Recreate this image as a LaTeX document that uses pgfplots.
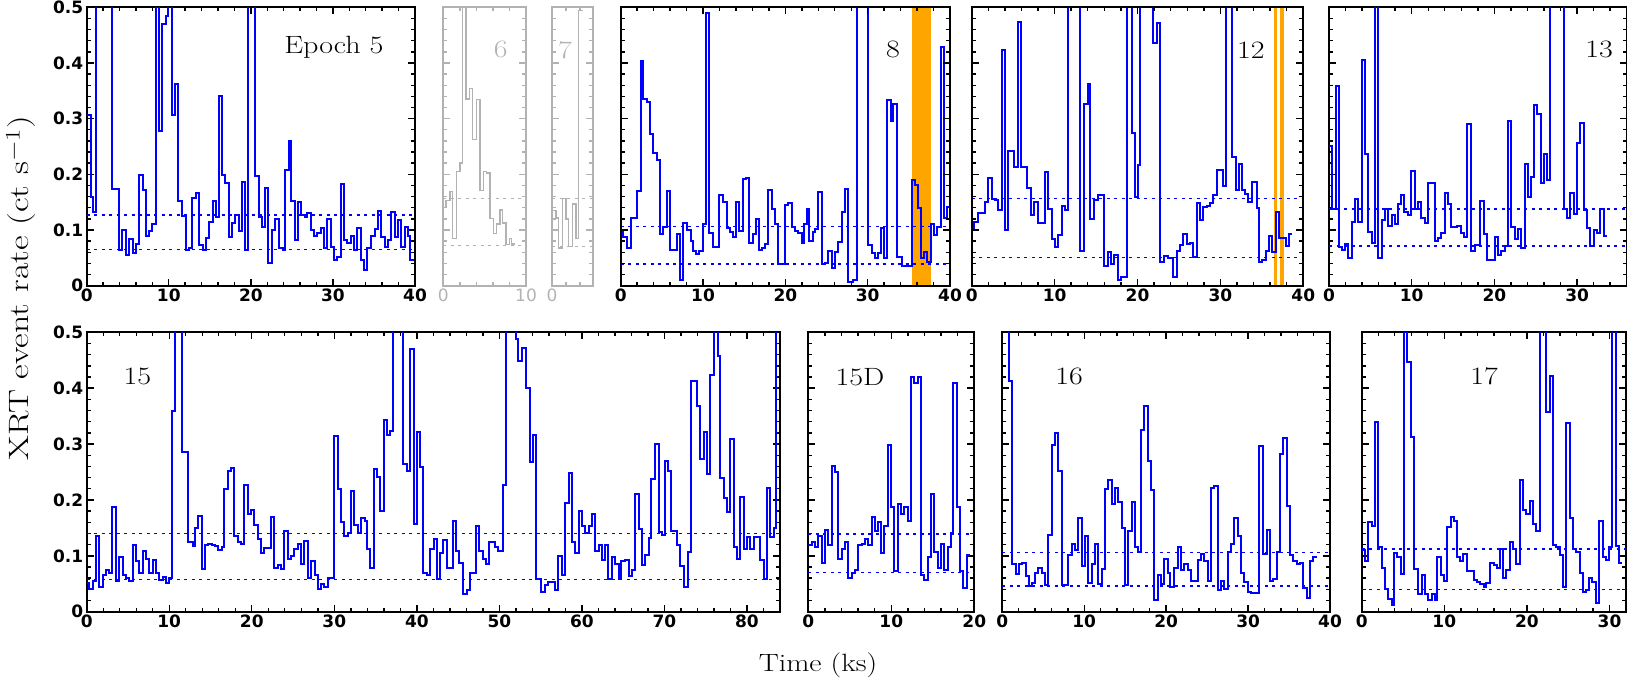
\documentclass[border=0pt]{standalone}
\usepackage{fontspec}
\usepackage{pgfplots}
\pgfplotsset{compat=1.18}
\usepackage{pgfplotstable}
\usepackage{graphicx}
\newfontfamily\tickfont{DejaVu Sans}
\definecolor{band}{RGB}{255,165,0}
\definecolor{ltgray}{RGB}{178,178,178}
\newcommand\lab[1]{\fontsize{25}{25}\selectfont\scalebox{1.2}[1]{#1}}

% light curves: bin start (ks), rate (ct/s); 0.6 = off the top
\pgfplotstableread{
t r
0 0.307
0.49 0.16
0.81 0.132
1.14 0.6
3.13 0.173
3.98 0.065
4.35 0.1
4.76 0.055
5.16 0.084
5.65 0.058
6.06 0.075
6.38 0.198
6.83 0.171
7.24 0.089
7.64 0.099
8.01 0.111
8.41 0.6
8.82 0.278
9.23 0.47
9.63 0.485
9.96 0.6
10.37 0.307
10.77 0.362
11.18 0.153
11.67 0.126
12.07 0.064
12.48 0.068
12.89 0.157
13.29 0.166
13.7 0.073
14.11 0.065
14.51 0.086
14.92 0.115
15.33 0.152
15.73 0.123
16.06 0.341
16.46 0.198
16.87 0.184
17.28 0.088
17.68 0.113
18.09 0.127
18.5 0.098
18.9 0.187
19.31 0.065
19.63 0.6
20.53 0.197
21.02 0.124
21.34 0.106
21.75 0.176
22.15 0.04
22.56 0.1
22.89 0.12
23.37 0.067
23.86 0.065
24.19 0.208
24.59 0.26
24.92 0.153
25.33 0.082
25.73 0.151
26.14 0.127
26.54 0.123
26.87 0.131
27.28 0.1
27.68 0.09
28.09 0.094
28.5 0.103
28.9 0.067
29.31 0.119
29.72 0.07
30.12 0.047
30.53 0.051
30.93 0.182
31.34 0.082
31.75 0.076
32.15 0.09
32.56 0.065
32.97 0.104
33.37 0.046
33.78 0.029
34.19 0.067
34.67 0.09
35.08 0.102
35.49 0.135
35.89 0.087
36.3 0.069
36.71 0.082
37.11 0.132
37.52 0.088
37.93 0.118
38.33 0.07
38.74 0.106
39.15 0.09
39.43 0.046
39.84 0.046
}\epfive

\pgfplotstableread{
t r
0 0.14
0.32 0.153
0.81 0.169
1.13 0.085
1.61 0.205
2.02 0.22
2.34 0.6
2.74 0.335
3.15 0.354
3.55 0.263
4.03 0.334
4.44 0.171
4.84 0.205
5.24 0.202
5.65 0.121
6.05 0.094
6.45 0.111
6.85 0.136
7.18 0.113
7.58 0.074
7.98 0.085
8.27 0.075
8.67 0.075
}\epsix

\pgfplotstableread{
t r
0 0.135
0.48 0.122
0.81 0.068
1.29 0.157
1.69 0.12
2.02 0.07
2.5 0.147
2.9 0.085
3.19 0.494
3.71 0.494
}\epseven

\pgfplotstableread{
t r
0 0.1
0.32 0.088
0.73 0.068
1.21 0.122
1.94 0.17
2.43 0.403
2.75 0.335
3.16 0.33
3.56 0.272
3.97 0.238
4.37 0.226
4.78 0.093
5.18 0.105
5.59 0.17
5.99 0.065
6.8 0.093
7.21 0.011
7.61 0.113
8.1 0.1
8.5 0.08
8.83 0.062
9.15 0.057
9.55 0.063
9.96 0.11
10.36 0.49
10.77 0.095
11.17 0.07
11.98 0.163
12.47 0.15
12.87 0.104
13.28 0.097
13.68 0.087
14.01 0.151
14.41 0.098
14.9 0.191
15.22 0.193
15.63 0.077
16.03 0.093
16.44 0.12
16.84 0.065
17.13 0.068
17.53 0.075
17.94 0.172
18.34 0.137
18.74 0.111
19.15 0.039
19.96 0.145
20.36 0.148
20.77 0.105
21.17 0.098
21.58 0.095
21.98 0.077
22.31 0.111
22.59 0.137
22.91 0.08
23.32 0.097
23.64 0.102
24.01 0.169
24.41 0.039
24.82 0.04
25.22 0.063
25.63 0.032
26.03 0.061
26.44 0.079
26.84 0.132
27.25 0.174
27.65 0.007
28.18 0.01
28.66 0.6
30.08 0.073
30.49 0.058
30.89 0.05
31.3 0.058
31.58 0.104
31.98 0.05
32.39 0.334
32.83 0.296
33.12 0.326
33.6 0.052
34.13 0.036
34.53 0.036
35.34 0.189
35.75 0.181
36.15 0.139
36.48 0.05
36.88 0.06
37.25 0.042
37.65 0.11
38.06 0.091
38.46 0.106
38.87 0.428
39.27 0.121
39.6 0.142
40 0.142
}\epeight

\pgfplotstableread{
t r
0 0.1
0.32 0.114
0.72 0.131
1.61 0.151
2.01 0.194
2.41 0.155
2.81 0.154
3.14 0.136
3.62 0.423
4.02 0.1
4.42 0.242
5.15 0.213
5.55 0.473
5.95 0.214
6.63 0.175
7.16 0.127
7.56 0.151
7.96 0.112
8.84 0.205
9.25 0.137
9.65 0.084
10.05 0.07
10.37 0.091
10.85 0.143
11.26 0.136
11.58 0.6
13.07 0.063
13.59 0.326
13.99 0.363
14.31 0.12
14.71 0.154
15.2 0.162
16.0 0.036
16.4 0.06
16.8 0.039
17.21 0.055
17.61 0.01
18.01 0.016
18.69 0.6
19.3 0.274
19.7 0.16
20.1 0.216
20.3 0.6
21.91 0.435
22.31 0.472
22.71 0.043
23.24 0.053
23.72 0.049
24.32 0.016
24.72 0.063
25.13 0.073
25.53 0.093
25.93 0.075
26.33 0.077
26.73 0.052
27.14 0.148
27.54 0.118
27.94 0.141
28.34 0.143
28.74 0.148
29.15 0.162
29.55 0.207
30.35 0.179
30.63 0.6
31.36 0.232
31.84 0.172
32.24 0.219
32.56 0.172
32.96 0.164
33.37 0.151
33.77 0.187
34.37 0.139
34.65 0.042
35.06 0.046
35.46 0.063
35.86 0.089
36.26 0.061
36.66 0.132
37.07 0.086
37.47 0.086
37.87 0.071
38.27 0.092
38.67 0.092
}\eptwelve

\pgfplotstableread{
t r
0 0.251
0.32 0.137
0.81 0.358
1.21 0.07
1.53 0.065
1.94 0.075
2.34 0.05
2.75 0.114
3.15 0.155
3.55 0.115
3.96 0.405
4.36 0.236
4.76 0.096
5.17 0.077
5.57 0.6
5.97 0.05
6.38 0.118
6.78 0.137
7.19 0.107
7.59 0.127
7.99 0.11
8.32 0.146
8.72 0.163
9.12 0.132
9.53 0.127
9.93 0.206
10.34 0.137
10.74 0.151
11.14 0.122
11.55 0.112
11.95 0.185
12.76 0.08
13.16 0.086
13.56 0.095
13.97 0.167
14.37 0.147
14.7 0.105
15.5 0.107
15.91 0.094
16.31 0.088
16.71 0.291
17.2 0.063
17.6 0.073
18.21 0.152
18.69 0.092
19.1 0.046
20.1 0.088
20.43 0.055
20.83 0.063
21.24 0.072
21.64 0.295
22.04 0.106
22.45 0.083
22.85 0.101
23.25 0.067
23.66 0.218
24.06 0.159
24.47 0.196
24.79 0.325
25.19 0.308
25.6 0.185
26.0 0.236
26.36 0.189
26.77 0.6
28.38 0.138
28.78 0.121
29.19 0.167
29.59 0.129
30.0 0.256
30.4 0.292
30.8 0.136
31.21 0.103
31.61 0.072
32.01 0.1
32.42 0.094
32.82 0.137
33.23 0.089
33.63 0.089
}\epthirteen

\pgfplotstableread{
t r
0 0.052
0.32 0.04
0.73 0.055
1.13 0.135
1.54 0.045
1.94 0.065
2.34 0.075
2.75 0.07
3.07 0.187
3.56 0.055
3.96 0.097
4.36 0.065
4.77 0.06
5.17 0.055
5.58 0.12
5.98 0.09
6.38 0.07
6.79 0.108
7.19 0.095
7.6 0.07
8.0 0.093
8.4 0.07
8.81 0.057
9.21 0.062
9.62 0.052
10.02 0.06
10.3 0.36
10.71 0.6
11.52 0.285
12.32 0.125
12.85 0.118
13.13 0.15
13.54 0.172
13.94 0.076
14.34 0.12
14.75 0.122
15.15 0.12
15.56 0.117
15.96 0.11
16.36 0.115
16.69 0.22
17.09 0.252
17.49 0.257
17.9 0.136
18.3 0.125
18.71 0.122
19.11 0.226
19.52 0.175
19.92 0.182
20.32 0.155
20.73 0.13
21.13 0.105
21.54 0.114
22.34 0.17
22.75 0.079
23.15 0.083
23.56 0.077
23.96 0.145
24.36 0.094
24.77 0.1
25.17 0.112
25.58 0.121
25.98 0.085
26.38 0.126
26.79 0.06
27.19 0.09
27.6 0.065
28.0 0.04
28.4 0.05
28.81 0.045
29.21 0.06
30.02 0.314
30.42 0.22
30.83 0.16
31.23 0.135
31.64 0.14
32.04 0.216
32.44 0.155
32.85 0.14
33.25 0.168
33.66 0.163
33.94 0.113
34.34 0.078
34.75 0.256
35.15 0.241
35.56 0.18
35.96 0.343
36.36 0.317
36.77 0.323
37.17 0.6
38.38 0.265
38.79 0.252
39.19 0.47
39.6 0.157
40.0 0.322
40.4 0.259
40.73 0.07
41.21 0.065
41.54 0.113
42.02 0.13
42.42 0.058
42.82 0.105
43.22 0.128
43.63 0.078
44.03 0.078
44.36 0.163
44.76 0.109
45.16 0.088
45.57 0.031
46.05 0.039
46.46 0.069
47.18 0.154
47.59 0.109
47.99 0.095
48.4 0.085
48.8 0.124
49.49 0.116
49.89 0.109
50.42 0.227
50.82 0.6
52.03 0.488
52.31 0.448
52.72 0.472
53.24 0.4
53.65 0.268
54.05 0.316
54.46 0.058
55.06 0.035
55.47 0.047
55.95 0.053
56.76 0.038
57.16 0.1
57.57 0.066
57.97 0.195
58.38 0.248
58.78 0.124
59.18 0.105
59.59 0.181
59.99 0.153
60.4 0.141
60.8 0.153
61.2 0.175
61.61 0.109
62.01 0.119
62.42 0.093
62.82 0.119
63.22 0.058
63.63 0.098
64.03 0.085
64.44 0.058
64.76 0.09
65.24 0.093
65.65 0.063
66.05 0.075
66.38 0.21
66.86 0.148
67.26 0.083
67.67 0.102
68.07 0.131
68.4 0.237
68.8 0.3
69.28 0.142
69.69 0.138
70.01 0.27
70.42 0.252
70.82 0.145
71.51 0.119
71.91 0.082
72.32 0.044
72.8 0.106
73.2 0.413
73.93 0.369
74.33 0.273
74.74 0.321
75.14 0.246
75.55 0.424
75.95 0.6
76.44 0.458
76.76 0.239
77.16 0.204
77.57 0.179
77.97 0.309
78.38 0.115
78.78 0.094
79.18 0.206
79.59 0.112
79.99 0.134
80.4 0.112
80.8 0.133
81.2 0.133
81.61 0.093
82.01 0.058
82.42 0.221
82.82 0.133
83.22 0.149
83.55 0.6
84.03 0.6
}\epfifteen

\pgfplotstableread{
t r
0 0.12
0.4 0.124
0.8 0.115
1.2 0.135
1.61 0.088
2.01 0.147
2.41 0.12
2.81 0.26
3.21 0.25
3.61 0.095
4.02 0.112
4.42 0.124
4.82 0.06
5.22 0.07
5.62 0.075
6.02 0.12
6.43 0.122
6.83 0.13
7.23 0.12
7.63 0.17
8.03 0.145
8.43 0.16
8.76 0.105
9.16 0.153
9.56 0.298
9.96 0.188
10.36 0.073
10.76 0.192
11.16 0.175
11.57 0.188
11.97 0.162
12.37 0.42
12.77 0.41
13.17 0.42
13.57 0.066
13.98 0.057
14.38 0.097
14.78 0.21
15.18 0.107
15.58 0.078
15.98 0.122
16.39 0.075
16.79 0.116
17.19 0.14
17.47 0.41
17.87 0.188
18.27 0.072
18.67 0.043
19.08 0.102
19.48 0.102
}\epfifteenD

\pgfplotstableread{
t r
0 0.6
0.81 0.413
1.22 0.085
1.63 0.067
2.03 0.085
2.44 0.088
2.85 0.063
3.25 0.046
3.66 0.051
3.99 0.069
4.39 0.079
4.8 0.069
5.21 0.048
5.61 0.138
6.02 0.298
6.43 0.319
6.83 0.251
7.24 0.047
8.06 0.101
8.46 0.122
8.87 0.11
9.28 0.167
9.68 0.082
10.09 0.136
10.5 0.051
10.9 0.085
11.31 0.121
11.72 0.05
12.12 0.076
12.53 0.22
12.94 0.236
13.34 0.193
13.75 0.222
14.16 0.197
14.56 0.149
14.97 0.047
15.38 0.145
15.79 0.197
16.19 0.115
16.6 0.106
16.92 0.326
17.33 0.368
17.74 0.27
18.14 0.217
18.55 0.021
18.96 0.066
19.37 0.049
19.77 0.094
20.18 0.07
20.46 0.044
20.99 0.079
21.4 0.115
21.81 0.075
22.21 0.085
22.62 0.075
23.03 0.055
23.84 0.092
24.25 0.103
24.65 0.09
25.06 0.055
25.47 0.222
25.87 0.225
26.28 0.038
26.69 0.055
27.09 0.041
27.5 0.106
27.91 0.122
28.32 0.168
28.72 0.136
29.13 0.07
29.54 0.053
29.94 0.036
30.35 0.033
31.33 0.297
31.85 0.104
32.26 0.147
32.67 0.055
33.08 0.058
33.48 0.106
33.89 0.283
34.3 0.31
34.7 0.189
35.11 0.101
35.52 0.09
35.92 0.085
36.33 0.088
36.74 0.042
37.14 0.025
37.55 0.091
37.96 0.097
38.36 0.097
}\epsixteen

\pgfplotstableread{
t r
0 0.11
0.4 0.09
0.81 0.16
1.21 0.154
1.61 0.34
2.01 0.115
2.42 0.079
2.82 0.041
3.22 0.022
3.62 0.012
3.91 0.105
4.31 0.098
4.71 0.067
5.11 0.6
5.52 0.447
5.92 0.312
6.32 0.076
6.85 0.032
7.25 0.066
7.65 0.032
8.05 0.021
8.46 0.031
8.86 0.021
9.14 0.098
9.54 0.066
9.95 0.055
10.35 0.152
10.75 0.17
11.16 0.162
11.48 0.098
11.88 0.091
12.28 0.103
12.69 0.072
13.09 0.073
13.57 0.057
13.98 0.054
14.38 0.049
14.78 0.044
15.1 0.051
15.59 0.087
15.99 0.084
16.39 0.079
16.71 0.112
17.12 0.06
17.52 0.075
17.92 0.124
18.32 0.113
18.73 0.085
19.13 0.236
19.53 0.182
19.94 0.174
20.34 0.198
20.74 0.157
21.14 0.145
21.55 0.6
22.35 0.357
22.75 0.421
23.16 0.119
23.56 0.115
23.96 0.101
24.37 0.044
24.77 0.338
25.17 0.168
25.57 0.112
25.98 0.107
26.38 0.07
26.78 0.036
27.18 0.039
27.51 0.061
27.91 0.054
28.31 0.016
28.71 0.163
29.2 0.097
29.6 0.092
29.92 0.116
30.33 0.6
30.73 0.118
31.13 0.088
31.53 0.088
}\epseventeen

\pgfplotsset{
  lc/.style={scale only axis, ymin=0, ymax=0.5,
    ytick={0,0.1,0.2,0.3,0.4,0.5}, minor y tick num=4,
    yticklabels={},
    axis line style={line width=2pt},
    every tick/.style={line width=1.4pt},
    major tick length=7pt, minor tick length=4pt,
    tick label style={font=\fontsize{17}{17}\tickfont\bfseries},
    /pgf/number format/assume math mode=true},
  top/.style={lc, height=278.4pt},
  bot/.style={lc, height=279.4pt},
  ylab/.style={yticklabels={0,0.1,0.2,0.3,0.4,0.5}},
  faded/.style={axis line style={line width=2pt, ltgray},
    every tick/.style={line width=1.4pt, ltgray},
    tick label style={ltgray, font=\fontsize{17}{17}\tickfont}},
  curve/.style={blue, line width=2pt, const plot, mark=none},
  level/.style={blue, line width=1.5pt, dash pattern=on 3pt off 4.5pt},
}

\begin{document}
\begin{tikzpicture}
\useasboundingbox (0pt,0pt) rectangle (1627pt,680pt);

% ---- top row ----
\begin{axis}[top, ylab, at={(86.7pt,394.3pt)}, anchor=south west, width=328.3pt,
  xmin=0, xmax=40, xtick={0,10,...,40}, minor xtick={0,2,...,40}]
\addplot[level] coordinates {(0,0.127) (40,0.127)};
\addplot[level] coordinates {(0,0.065) (40,0.065)};
\addplot[curve] table[x=t,y=r] {\epfive};
\node at (rel axis cs:0.753,0.858) {\lab{Epoch 5}};
\end{axis}

\begin{axis}[top, faded, at={(443.3pt,394.3pt)}, anchor=south west, width=82.7pt,
  xmin=0, xmax=10, xtick={0,10}, minor xtick={0,2,...,10}]
\addplot[level, ltgray] coordinates {(0,0.157) (10,0.157)};
\addplot[level, ltgray] coordinates {(0,0.072) (10,0.072)};
\addplot[curve, ltgray, line width=1.5pt] table[x=t,y=r] {\epsix};
\node[ltgray] at (rel axis cs:0.695,0.847) {\lab{6}};
\end{axis}

\begin{axis}[top, faded, at={(552pt,394.3pt)}, anchor=south west, width=41.3pt,
  xmin=0, xmax=5, xtick={0}, minor xtick={1.7,3.4}]
\addplot[level, ltgray] coordinates {(0,0.157) (5,0.157)};
\addplot[level, ltgray] coordinates {(0,0.07) (5,0.07)};
\addplot[curve, ltgray, line width=1.5pt] table[x=t,y=r] {\epseven};
\node[ltgray] at (rel axis cs:0.315,0.847) {\lab{7}};
\end{axis}

\begin{axis}[top, axis on top, at={(620.7pt,394.3pt)}, anchor=south west, width=329.3pt,
  xmin=0, xmax=40, xtick={0,10,...,40}, minor xtick={0,2,...,40}]
\addplot[fill=band, draw=none] coordinates {(35.34,0) (35.34,0.5) (36.43,0.5) (36.43,0)} --cycle;
\addplot[fill=band, draw=none] coordinates {(36.53,0) (36.53,0.5) (37.04,0.5) (37.04,0)} --cycle;
\addplot[fill=band, draw=none] coordinates {(37.13,0) (37.13,0.5) (37.65,0.5) (37.65,0)} --cycle;
\addplot[level] coordinates {(0,0.106) (40,0.106)};
\addplot[level] coordinates {(0,0.039) (40,0.039)};
\addplot[curve] table[x=t,y=r] {\epeight};
\node at (rel axis cs:0.827,0.847) {\lab{8}};
\end{axis}

\begin{axis}[top, axis on top, at={(971.7pt,394.3pt)}, anchor=south west, width=331.6pt,
  xmin=0, xmax=40, xtick={0,10,...,40}, minor xtick={0,2,...,40}]
\addplot[fill=band, draw=none] coordinates {(36.5,0) (36.5,0.5) (36.82,0.5) (36.82,0)} --cycle;
\addplot[fill=band, draw=none] coordinates {(37.19,0) (37.19,0.5) (37.71,0.5) (37.71,0)} --cycle;
\addplot[level] coordinates {(0,0.157) (40,0.157)};
\addplot[level] coordinates {(0,0.051) (40,0.051)};
\addplot[curve] table[x=t,y=r] {\eptwelve};
\node at (rel axis cs:0.842,0.847) {\lab{12}};
\end{axis}

\begin{axis}[top, at={(1329pt,394.3pt)}, anchor=south west, width=297.7pt,
  xmin=0, xmax=36, xtick={0,10,20,30}, minor xtick={0,2,...,36}]
\addplot[level] coordinates {(0,0.138) (36,0.138)};
\addplot[level] coordinates {(0,0.071) (36,0.071)};
\addplot[curve] table[x=t,y=r] {\epthirteen};
\node at (rel axis cs:0.907,0.847) {\lab{13}};
\end{axis}

% ---- bottom row ----
\begin{axis}[bot, ylab, at={(86.7pt,68.3pt)}, anchor=south west, width=693.3pt,
  xmin=0, xmax=84, xtick={0,10,...,80}, minor xtick={0,2,...,84}]
\addplot[level] coordinates {(0,0.14) (84,0.14)};
\addplot[level] coordinates {(0,0.058) (84,0.058)};
\addplot[curve] table[x=t,y=r] {\epfifteen};
\node at (rel axis cs:0.073,0.841) {\lab{15}};
\end{axis}

\begin{axis}[bot, at={(808.3pt,68.3pt)}, anchor=south west, width=166pt,
  xmin=0, xmax=20, xtick={0,10,20}, minor xtick={0,2,...,20}]
\addplot[level] coordinates {(0,0.139) (20,0.139)};
\addplot[level] coordinates {(0,0.07) (20,0.07)};
\addplot[curve] table[x=t,y=r] {\epfifteenD};
\node at (rel axis cs:0.311,0.841) {\lab{15D}};
\end{axis}

\begin{axis}[bot, at={(1002.3pt,68.3pt)}, anchor=south west, width=327.7pt,
  xmin=0, xmax=40, xtick={0,10,...,40}, minor xtick={0,2,...,40}]
\addplot[level] coordinates {(0,0.106) (40,0.106)};
\addplot[level] coordinates {(0,0.046) (40,0.046)};
\addplot[curve] table[x=t,y=r] {\epsixteen};
\node at (rel axis cs:0.204,0.841) {\lab{16}};
\end{axis}

\begin{axis}[bot, at={(1361.7pt,68.3pt)}, anchor=south west, width=264.3pt,
  xmin=0, xmax=32, xtick={0,10,20,30}, minor xtick={0,2,...,32}]
\addplot[level] coordinates {(0,0.112) (32,0.112)};
\addplot[level] coordinates {(0,0.04) (32,0.04)};
\addplot[curve] table[x=t,y=r] {\epseventeen};
\node at (rel axis cs:0.463,0.841) {\lab{17}};
\end{axis}

\node[rotate=90, inner sep=0pt] at (21pt,392pt) {\fontsize{28}{28}\selectfont\scalebox{1.28}[1]{XRT event rate (ct s$^{-1}$)}};
\node at (818pt,15pt) {\lab{Time (ks)}};
\end{tikzpicture}
\end{document}
